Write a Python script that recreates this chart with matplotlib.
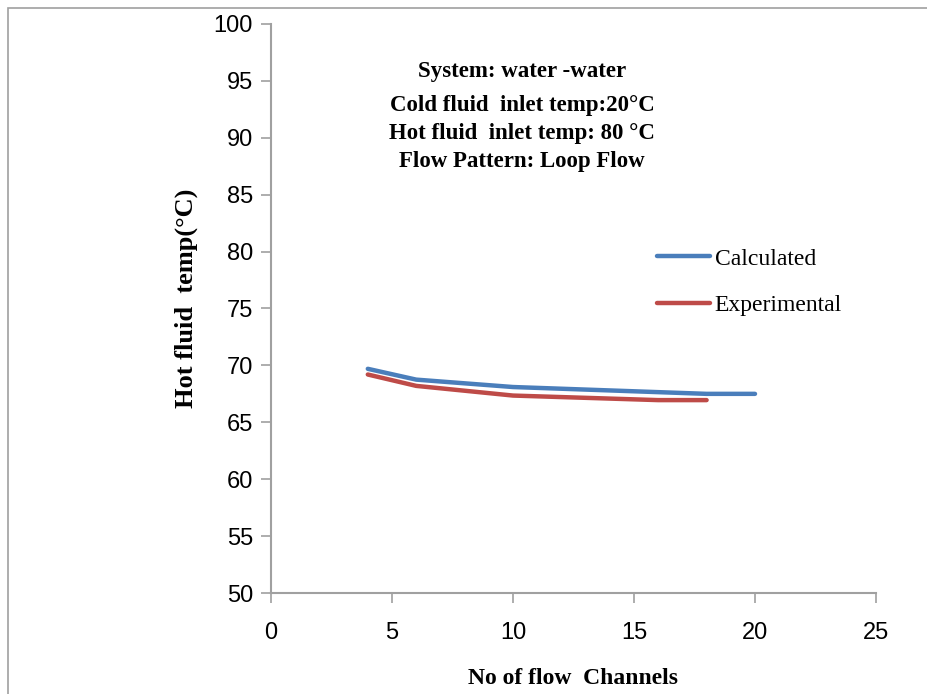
import matplotlib.pyplot as plt
from matplotlib.patches import Rectangle

# datos
canales_calc = [4, 6, 10, 16, 18, 20]
temp_calc = [69.7, 68.75, 68.1, 67.65, 67.5, 67.5]
canales_exp = [4, 6, 10, 16, 18]
temp_exp = [69.2, 68.2, 67.35, 66.95, 66.95]

x_ticks = [0, 5, 10, 15, 20, 25]
y_ticks = [50, 55, 60, 65, 70, 75, 80, 85, 90, 95, 100]

fig = plt.figure(figsize=(9.27, 6.94), dpi=100)
ax = fig.add_axes([271 / 927, 1 - 593 / 694, 605 / 927, 569 / 694])

# marco exterior
fig.patches.append(Rectangle((8 / 927, -0.1), 1.2, 1 - 8 / 694 + 0.1,
                             transform=fig.transFigure, fill=False,
                             edgecolor='#a0a0a0', linewidth=1.2))

ax.plot(canales_calc, temp_calc, color='#4a7ebb', linewidth=3.2,
        solid_capstyle='round', label='Calculated')
ax.plot(canales_exp, temp_exp, color='#be4b48', linewidth=3.2,
        solid_capstyle='round', label='Experimental')

ax.set_xlim(0, 25)
ax.set_ylim(50, 100)
ax.set_xticks(x_ticks)
ax.set_yticks(y_ticks)
for s in ['top', 'right']:
    ax.spines[s].set_visible(False)
for s in ['left', 'bottom']:
    ax.spines[s].set_color('#a0a0a0')
    ax.spines[s].set_linewidth(1.5)
ax.tick_params(direction='out', length=7, width=1.2, color='#a0a0a0',
               labelsize=17, pad=6)
for lab in ax.get_xticklabels() + ax.get_yticklabels():
    lab.set_family('Liberation Sans')
ax.tick_params(axis='x', pad=14)

ax.set_xlabel('No of flow  Channels', family='Liberation Serif',
              fontweight='bold', fontsize=17, labelpad=17)
ax.set_ylabel('Hot fluid  temp(°C)', family='Liberation Serif',
              fontweight='bold', fontsize=19)
ax.yaxis.set_label_coords(-0.121, 0.518)

textos = ['System: water -water', 'Cold fluid  inlet temp:20°C',
          'Hot fluid  inlet temp: 80 °C', 'Flow Pattern: Loop Flow']
ys = [72, 106, 133, 161]
for t, yp in zip(textos, ys):
    fig.text(522 / 927, 1 - yp / 694, t, family='Liberation Serif',
             fontweight='bold', fontsize=16.5, ha='center', va='center')

ax.legend(loc='upper left', bbox_to_anchor=(0.638, 0.606), frameon=False,
          borderpad=0, borderaxespad=0,
          prop={'family': 'Liberation Serif', 'size': 17},
          handlelength=2.25, handletextpad=0.2, labelspacing=1.05)

fig.savefig('out.png', dpi=100)
